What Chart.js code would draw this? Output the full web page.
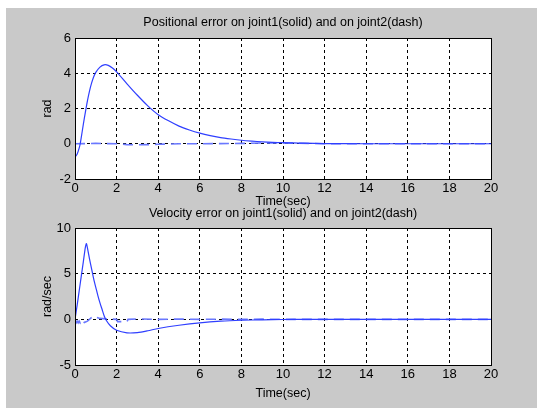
<!DOCTYPE html>
<html>
<head>
<meta charset="utf-8">
<script src="https://cdn.jsdelivr.net/npm/chart.js@4"></script>
<style>
  body { margin: 0; background: #fff; width: 537px; height: 408px; overflow: hidden; position: relative; }
  #fig { position: absolute; left: 6px; top: 8px; right: 0; bottom: 0; background: #c9c9c9; }
  canvas { position: absolute; left: 0; }
  #top { top: 0; }
  #bottom { top: 200px; }
</style>
</head>
<body>
<div id="fig"></div>
<canvas id="top" width="537" height="215"></canvas>
<canvas id="bottom" width="537" height="208"></canvas>
<script>
// positional error (rad)
const tPos1 = [0, 0.1, 0.2, 0.25, 0.3, 0.4, 0.5, 0.6, 0.7, 0.8, 0.9, 1.0, 1.2, 1.4, 1.6, 1.8, 2.0, 2.5, 3.0, 3.5, 4.0, 4.5, 5.0, 5.5, 6.0, 6.5, 7.0, 7.5, 8.0, 8.5, 9.0, 9.5, 10, 10.5, 11, 12, 14, 20];
const pos1 = [-0.75, -0.6, -0.25, 0, 0.35, 1.1, 1.8, 2.45, 3.0, 3.45, 3.8, 4.05, 4.35, 4.48, 4.45, 4.3, 4.08, 3.4, 2.75, 2.15, 1.65, 1.3, 1.0, 0.78, 0.6, 0.46, 0.35, 0.27, 0.2, 0.15, 0.11, 0.08, 0.06, 0.05, 0.03, 0.01, 0, 0];
const tPos2 = [0, 1, 2, 2.5, 3, 3.5, 4, 5, 6, 8, 9, 10, 10.7, 12, 20];
const pos2 = [0, 0.02, 0, -0.05, -0.06, -0.05, -0.03, 0, 0, 0.02, 0.04, 0.05, 0.03, 0, 0];

// velocity error (rad/sec)
const tVel1 = [0, 0.1, 0.2, 0.3, 0.4, 0.5, 0.55, 0.6, 0.7, 0.8, 0.9, 1.0, 1.1, 1.2, 1.3, 1.4, 1.5, 1.7, 2.0, 2.5, 3.0, 3.5, 4.0, 5, 6, 7, 8, 9, 10, 11, 20];
const vel1 = [0, 1.5, 3.1, 4.7, 6.3, 7.9, 8.3, 7.8, 6.6, 5.5, 4.4, 3.5, 2.6, 1.8, 1.1, 0.4, -0.1, -0.7, -1.2, -1.48, -1.45, -1.25, -1.0, -0.65, -0.38, -0.2, -0.1, -0.05, -0.02, 0, 0];
const tVel2 = [0, 0.05, 0.1, 0.15, 0.2, 0.25, 0.3, 0.35, 0.4, 0.45, 0.5, 0.6, 0.8, 0.9, 1.0, 1.2, 1.5, 2.0, 2.05, 2.5, 2.55, 3, 4, 5, 6, 7, 8, 9, 10, 11, 20];
const vel2 = [-0.3, -0.4, -0.2, -0.4, -0.2, -0.4, -0.25, -0.4, -0.2, -0.35, -0.3, -0.2, 0.2, 0.35, 0.25, 0.1, 0.05, 0, -0.25, -0.25, 0, 0.05, 0, 0.03, 0, 0.02, 0, 0.02, 0, 0, 0];

const xTicks = [0, 2, 4, 6, 8, 10, 12, 14, 16, 18, 20];

const FONT = "'Liberation Sans', Arial, sans-serif";
const solidColor = '#2f3fff';
const dashColor = '#6a78ff';

function pts(xs, ys) {
    return xs.map((x, i) => ({x: x, y: ys[i]}));
}

// white plot box with a black frame and a title centred over it, like a matlab axes
const frame = {
    id: 'frame',
    beforeDraw(chart) {
        const a = chart.chartArea, ctx = chart.ctx;
        ctx.save();
        ctx.fillStyle = '#fff';
        ctx.fillRect(a.left, a.top, a.right - a.left, a.bottom - a.top);
        ctx.restore();
    },
    afterDraw(chart, args, o) {
        const a = chart.chartArea, ctx = chart.ctx;
        ctx.save();
        ctx.strokeStyle = '#000';
        ctx.lineWidth = 1;
        ctx.strokeRect(Math.round(a.left) + 0.5, Math.round(a.top) + 0.5,
            Math.round(a.right - a.left), Math.round(a.bottom - a.top));
        ctx.fillStyle = '#000';
        ctx.font = '12.5px ' + FONT;
        ctx.textAlign = 'center';
        ctx.textBaseline = 'middle';
        ctx.fillText(o.text, (a.left + a.right) / 2, o.y);
        ctx.restore();
    }
};

function makeChart(id, opts) {
    new Chart(document.getElementById(id), {
        type: 'line',
        data: {
            datasets: [{
                data: pts(opts.t1, opts.y1),
                borderColor: solidColor,
                borderWidth: 1.2,
                pointRadius: 0,
                tension: 0.25
            }, {
                data: pts(opts.t2, opts.y2),
                borderColor: dashColor,
                borderWidth: 1.6,
                borderDash: [10, 6],
                pointRadius: 0,
                tension: 0
            }]
        },
        options: {
            responsive: false,
            animation: false,
            layout: { padding: { left: 0, right: 46, top: opts.top, bottom: 0 } },
            plugins: {
                legend: { display: false },
                tooltip: { enabled: false },
                title: { display: false },
                frame: { text: opts.title, y: opts.titleY }
            },
            scales: {
                x: {
                    type: 'linear',
                    min: 0, max: 20,
                    afterBuildTicks: s => { s.ticks = xTicks.map(v => ({value: v})); },
                    afterFit: s => { s.height = opts.xHeight; },
                    grid: { color: '#000', drawTicks: false, lineWidth: 1 },
                    border: { display: false, dash: [3, 3] },
                    ticks: { color: '#000', padding: 2, font: { family: FONT, size: 13 } },
                    title: {
                        display: true, text: 'Time(sec)', color: '#000',
                        font: { family: FONT, size: 12.5 },
                        padding: { top: 0, bottom: opts.xTitleBottom }
                    }
                },
                y: {
                    min: opts.yMin, max: opts.yMax,
                    afterBuildTicks: s => { s.ticks = opts.yTicks.map(v => ({value: v})); },
                    afterFit: s => { s.width = 75; },
                    grid: { color: '#000', drawTicks: false, lineWidth: 1 },
                    border: { display: false, dash: [3, 3] },
                    ticks: { color: '#000', padding: 4, font: { family: FONT, size: 13 } },
                    title: {
                        display: true, text: opts.yLabel, color: '#000',
                        font: { family: FONT, size: 12.5 },
                        padding: { top: 40, bottom: 0 }
                    }
                }
            }
        },
        plugins: [frame]
    });
}

makeChart('top', {
    t1: tPos1, y1: pos1, t2: tPos2, y2: pos2,
    title: 'Positional error on joint1(solid) and on joint2(dash)',
    top: 38, titleY: 23,
    xHeight: 36, xTitleBottom: 6,
    yMin: -2, yMax: 6, yTicks: [-2, 0, 2, 4, 6],
    yLabel: 'rad'
});

makeChart('bottom', {
    t1: tVel1, y1: vel1, t2: tVel2, y2: vel2,
    title: 'Velocity error on joint1(solid) and on joint2(dash)',
    top: 28, titleY: 14,
    xHeight: 43, xTitleBottom: 7,
    yMin: -5, yMax: 10, yTicks: [-5, 0, 5, 10],
    yLabel: 'rad/sec'
});
</script>
</body>
</html>
